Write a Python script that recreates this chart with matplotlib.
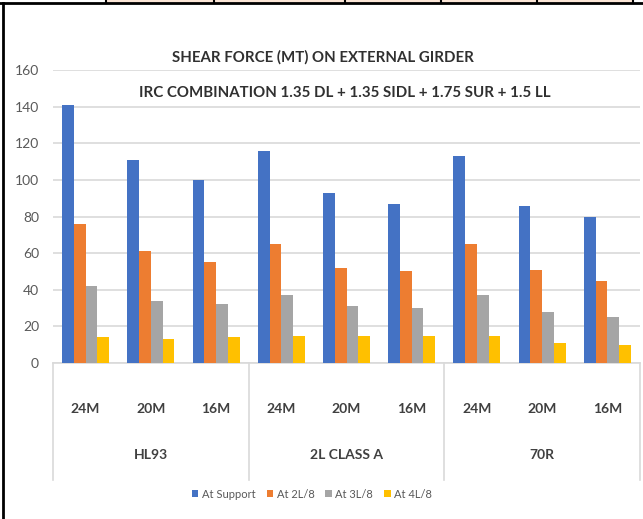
import matplotlib
matplotlib.use("Agg")
import matplotlib.pyplot as plt
from matplotlib.lines import Line2D
from matplotlib.patches import Rectangle
import matplotlib.transforms as mtransforms
import numpy as np

# Data
groups = ["HL93", "2L CLASS A", "70R"]
spans = ["24M", "20M", "16M"]
series_names = ["At Support", "At 2L/8", "At 3L/8", "At 4L/8"]
at_support = [141, 111, 100, 116, 93, 87, 113, 86, 80]
at_2l8 = [76, 61, 55, 65, 52, 50, 65, 51, 45]
at_3l8 = [42, 34, 32, 37, 31, 30, 37, 28, 25]
at_4l8 = [14, 13, 14, 15, 15, 15, 15, 11, 10]
yticks = [0, 20, 40, 60, 80, 100, 120, 140, 160]

colors = ["#4472C4", "#ED7D31", "#A5A5A5", "#FFC000"]
series = [at_support, at_2l8, at_3l8, at_4l8]

W, H = 643, 519
fig = plt.figure(figsize=(W / 100, H / 100), dpi=100)
fig.patch.set_facecolor("white")

font = ["Lato", "DejaVu Sans"]
text_col = "#404040"

# plot area in pixels
x0, x1 = 53, 640
y_top, y_zero = 70, 363
ax = fig.add_axes([x0 / W, 1 - y_zero / H, (x1 - x0) / W, (y_zero - y_top) / H])

n = len(at_support)
x = np.arange(n)
bw = 0.18
for i, (vals, c, name) in enumerate(zip(series, colors, series_names)):
    ax.bar(x + (i - 1.5) * bw, vals, width=bw, color=c, label=name, zorder=3)

ax.set_xlim(-0.5, n - 0.5)
ax.set_ylim(0, 160)
ax.set_yticks(yticks)
ax.set_yticklabels([str(v) for v in yticks], fontsize=10, color="#595959", family=font)
ax.yaxis.grid(True, color="#D9D9D9", linewidth=1.2, zorder=0)
ax.tick_params(axis="y", length=0, pad=10)
for s in ["top", "right", "left"]:
    ax.spines[s].set_visible(False)
ax.spines["bottom"].set_color("#D9D9D9")
ax.spines["bottom"].set_linewidth(1.2)

ax.set_xticks(x)
ax.set_xticklabels(spans * len(groups), fontsize=10, fontweight="bold",
                   color=text_col, family=font)
ax.tick_params(axis="x", length=0, pad=29)

trans = mtransforms.blended_transform_factory(ax.transData, ax.transAxes)
for g, name in enumerate(groups):
    ax.text(g * 3 + 1, -0.315, name, transform=trans, ha="center", va="center",
            fontsize=10, fontweight="bold", color=text_col, family=font)
for b in range(len(groups) + 1):
    ax.plot([b * 3 - 0.5, b * 3 - 0.5], [0, -0.40], transform=trans,
            color="#D9D9D9", linewidth=1.2, clip_on=False)

# Title lines
fig.text(323 / W, 1 - 57 / H, "SHEAR FORCE (MT) ON EXTERNAL GIRDER", ha="center",
         va="center", fontsize=10.8, fontweight="bold", color="#303030", family=font)
fig.text(345 / W, 1 - 93 / H, "IRC COMBINATION 1.35 DL + 1.35 SIDL + 1.75 SUR + 1.5 LL",
         ha="center", va="center", fontsize=10.8, fontweight="bold", color="#303030",
         family=font)

# Legend
fig.legend(loc="center", bbox_to_anchor=(312 / W, 1 - 494 / H), ncol=4, frameon=False,
           prop={"family": font, "size": 8}, labelcolor="#595959",
           handlelength=0.6, handleheight=0.6, handletextpad=0.3, columnspacing=1.0)

# Surrounding page frame
fig.add_artist(Line2D([0, 1], [1 - 3 / H, 1 - 3 / H], transform=fig.transFigure,
                      color="black", linewidth=2))
fig.add_artist(Line2D([3 / W, 3 / W], [0, 1 - 3 / H], transform=fig.transFigure,
                      color="black", linewidth=2))
cells = [106, 214, 345, 441, 537, 633]
fig.add_artist(Rectangle((cells[0] / W, 1 - 3 / H), (cells[-1] - cells[0]) / W, 3 / H,
                         transform=fig.transFigure, facecolor="#FBE5D6", edgecolor="none"))
for cx in cells:
    fig.add_artist(Line2D([cx / W, cx / W], [1 - 3 / H, 1], transform=fig.transFigure,
                          color="black", linewidth=1.5))

fig.savefig("out.png", dpi=100)
